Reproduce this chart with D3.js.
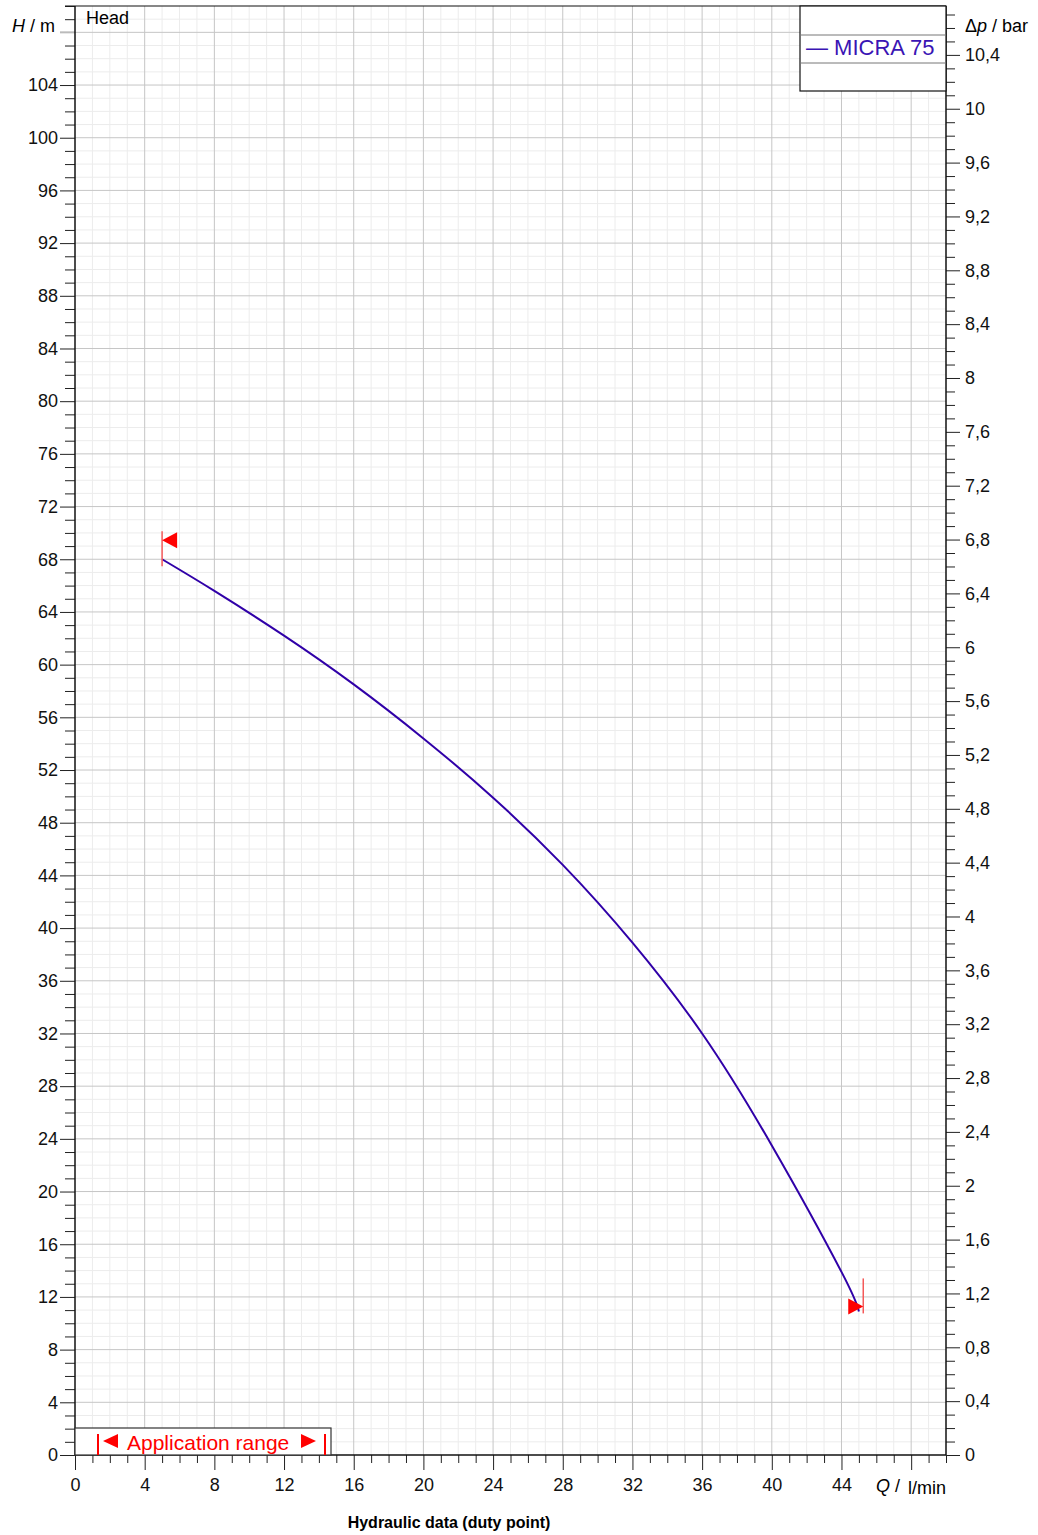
<!DOCTYPE html>
<html>
<head>
<meta charset="utf-8">
<script src="https://cdnjs.cloudflare.com/ajax/libs/d3/7.8.5/d3.min.js"></script>
<style>
  body { margin: 0; background: #fff; }
  svg { font-family: "Liberation Sans", Arial, sans-serif; }
</style>
</head>
<body>
<div id="chart"></div>
<script>
'use strict';

// pump curve MICRA 75
var flowValues = [5, 8, 12, 16, 20, 24, 28, 32, 36, 40, 44, 45];
var headValues = [68, 65.6, 62.2, 58.5, 54.4, 49.9, 44.8, 38.9, 32.0, 23.5, 13.9, 10.9];
// application range ends (l/min)
var rangeFlow = [5, 45.25];

var seriesName = 'MICRA 75';
var xTickLabels = [0, 4, 8, 12, 16, 20, 24, 28, 32, 36, 40, 44];
var yTickLabels = [0, 4, 8, 12, 16, 20, 24, 28, 32, 36, 40, 44, 48, 52, 56, 60, 64, 68, 72, 76, 80, 84, 88, 92, 96, 100, 104];
var barTickLabels = [0, 0.4, 0.8, 1.2, 1.6, 2, 2.4, 2.8, 3.2, 3.6, 4, 4.4, 4.8, 5.2, 5.6, 6, 6.4, 6.8, 7.2, 7.6, 8, 8.4, 8.8, 9.2, 9.6, 10, 10.4];
var metersPerBar = 10.22;

function drawChart() {
    var width = 1038, height = 1535;
    var plotLeft = 75, plotRight = 946, plotTop = 6, plotBottom = 1455;

    var svg = d3.select('#chart').append('svg')
        .attr('width', width)
        .attr('height', height);

    var x = d3.scaleLinear().domain([0, 50]).range([plotLeft, plotRight]);
    var y = d3.scaleLinear().domain([0, 110]).range([plotBottom, plotTop]);
    var yBar = d3.scaleLinear().domain([0, 110 / metersPerBar]).range([plotBottom, plotTop]);

    // grid
    var grid = svg.append('g');
    grid.selectAll('.vline')
        .data(d3.range(1, 50))
        .enter().append('line')
        .attr('x1', function(d) { return x(d); })
        .attr('x2', function(d) { return x(d); })
        .attr('y1', plotTop).attr('y2', plotBottom)
        .attr('stroke', function(d) { return d % 4 === 0 ? '#c6c6c6' : '#ececec'; })
        .attr('stroke-width', 1);
    grid.selectAll('.hline')
        .data(d3.range(1, 110))
        .enter().append('line')
        .attr('y1', function(d) { return y(d); })
        .attr('y2', function(d) { return y(d); })
        .attr('x1', plotLeft).attr('x2', plotRight)
        .attr('stroke', function(d) { return d % 4 === 0 ? '#c6c6c6' : '#ececec'; })
        .attr('stroke-width', 1);
    // major lines on top of the minor ones
    grid.selectAll('line').filter(function(d) { return d % 4 === 0; }).raise();

    // left axis
    var leftMinor = d3.axisLeft(y)
        .tickValues(d3.range(0, 111).filter(function(d) { return d % 4 !== 0; }))
        .tickSize(10).tickFormat('');
    var leftMajor = d3.axisLeft(y)
        .tickValues(yTickLabels)
        .tickSize(15).tickPadding(2)
        .tickFormat(d3.format('d'));
    svg.append('g').attr('transform', 'translate(' + plotLeft + ',0)').call(leftMinor);
    svg.append('g').attr('transform', 'translate(' + plotLeft + ',0)').call(leftMajor);

    // right axis in bar
    var rightMinor = d3.axisRight(yBar)
        .tickValues(d3.range(0, 108).map(function(d) { return d / 10; })
            .filter(function(d) { return Math.round(d * 10) % 4 !== 0; }))
        .tickSize(9).tickFormat('');
    var rightMajor = d3.axisRight(yBar)
        .tickValues(barTickLabels)
        .tickSize(14).tickPadding(5)
        .tickFormat(function(d) { return String(d).replace('.', ','); });
    svg.append('g').attr('transform', 'translate(' + plotRight + ',0)').call(rightMinor);
    svg.append('g').attr('transform', 'translate(' + plotRight + ',0)').call(rightMajor);

    // bottom axis
    var bottomMinor = d3.axisBottom(x)
        .tickValues(d3.range(0, 51).filter(function(d) { return d % 4 !== 0; }))
        .tickSize(8).tickFormat('');
    var bottomMajor = d3.axisBottom(x)
        .tickValues(xTickLabels.concat([48]))
        .tickSize(15).tickPadding(8)
        .tickFormat(function(d) { return d === 48 ? '' : d; });
    svg.append('g').attr('transform', 'translate(0,' + plotBottom + ')').call(bottomMinor);
    svg.append('g').attr('transform', 'translate(0,' + plotBottom + ')').call(bottomMajor);

    svg.selectAll('.tick text')
        .attr('font-size', 18)
        .attr('fill', '#111')
        .attr('font-family', '"Liberation Sans", Arial, sans-serif');
    svg.selectAll('.domain').remove();
    svg.selectAll('.tick line').attr('stroke', '#222');

    // 108 tick is gray, its label is the axis title
    svg.append('line')
        .attr('x1', plotLeft - 15).attr('x2', plotLeft)
        .attr('y1', y(108)).attr('y2', y(108))
        .attr('stroke', '#bbb').attr('stroke-width', 2);

    // frame
    svg.append('line').attr('x1', plotLeft).attr('x2', plotLeft).attr('y1', plotTop).attr('y2', plotBottom).attr('stroke', '#111').attr('stroke-width', 1.5);
    svg.append('line').attr('x1', plotRight).attr('x2', plotRight).attr('y1', plotTop).attr('y2', plotBottom).attr('stroke', '#111').attr('stroke-width', 1.5);
    svg.append('line').attr('x1', plotLeft).attr('x2', plotRight).attr('y1', plotBottom).attr('y2', plotBottom).attr('stroke', '#111').attr('stroke-width', 1.5);
    svg.append('line').attr('x1', plotLeft - 10).attr('x2', plotRight).attr('y1', plotTop).attr('y2', plotTop).attr('stroke', '#111').attr('stroke-width', 1.2);

    // axis titles
    var hTitle = svg.append('text').attr('x', 55).attr('y', 32).attr('text-anchor', 'end').attr('font-size', 18);
    hTitle.append('tspan').attr('font-style', 'italic').text('H');
    hTitle.append('tspan').text(' / m');

    var pTitle = svg.append('text').attr('x', 965).attr('y', 32).attr('font-size', 18);
    pTitle.append('tspan').text('\u0394');
    pTitle.append('tspan').attr('font-style', 'italic').text('p');
    pTitle.append('tspan').text(' / bar');

    var qTitle = svg.append('text').attr('x', 876).attr('y', 1492).attr('font-size', 18);
    qTitle.append('tspan').attr('font-style', 'italic').text('Q');
    qTitle.append('tspan').text(' /');
    svg.append('text').attr('x', 946).attr('y', 1494).attr('text-anchor', 'end').attr('font-size', 18).text('l/min');

    svg.append('text').attr('x', 86).attr('y', 24).attr('font-size', 18).text('Head');

    svg.append('text')
        .attr('x', 449).attr('y', 1528)
        .attr('text-anchor', 'middle')
        .attr('font-size', 16).attr('font-weight', 'bold')
        .text('Hydraulic data (duty point)');

    // curve
    var curveColor = '#3000a8';
    var points = flowValues.map(function(q, i) { return [q, headValues[i]]; });
    var line = d3.line()
        .x(function(d) { return x(d[0]); })
        .y(function(d) { return y(d[1]); })
        .curve(d3.curveNatural);
    svg.append('path')
        .datum(points)
        .attr('d', line)
        .attr('fill', 'none')
        .attr('stroke', curveColor)
        .attr('stroke-width', 2);

    // range markers at both ends of the curve
    var first = points[0], last = points[points.length - 1];
    var red = '#ff0000';
    var x0 = x(rangeFlow[0]), x1 = x(rangeFlow[1]);
    svg.append('line')
        .attr('x1', x0).attr('x2', x0)
        .attr('y1', y(first[1]) - 28).attr('y2', y(first[1]) + 7)
        .attr('stroke', '#f45a5a').attr('stroke-width', 1.5);
    svg.append('path')
        .attr('d', 'M' + x0 + ',' + (y(first[1]) - 19) + ' l15,-8 l0,16 z')
        .attr('fill', red);
    svg.append('line')
        .attr('x1', x1).attr('x2', x1)
        .attr('y1', y(last[1]) - 33).attr('y2', y(last[1]) + 2)
        .attr('stroke', '#f45a5a').attr('stroke-width', 1.5);
    svg.append('path')
        .attr('d', 'M' + x1 + ',' + (y(last[1]) - 5) + ' l-15,-8 l0,16 z')
        .attr('fill', red);

    // legend box
    var legend = svg.append('g');
    legend.append('rect')
        .attr('x', 800).attr('y', 6).attr('width', 146).attr('height', 85)
        .attr('fill', '#fff').attr('stroke', '#111').attr('stroke-width', 1.2);
    legend.append('line').attr('x1', 800).attr('x2', 946).attr('y1', 35).attr('y2', 35).attr('stroke', '#777');
    legend.append('line').attr('x1', 800).attr('x2', 946).attr('y1', 63).attr('y2', 63).attr('stroke', '#777');
    legend.append('text')
        .attr('x', 806).attr('y', 55)
        .attr('font-size', 22).attr('fill', '#3a14b4')
        .text('\u2014 ' + seriesName);

    // application range box
    var app = svg.append('g');
    app.append('rect')
        .attr('x', 75).attr('y', 1428).attr('width', 256).attr('height', 27)
        .attr('fill', '#fff').attr('stroke', '#333').attr('stroke-width', 1.2);
    app.append('line').attr('x1', 98).attr('x2', 98).attr('y1', 1434).attr('y2', 1455).attr('stroke', red).attr('stroke-width', 2);
    app.append('path').attr('d', 'M103,1441 l15,-7 l0,14 z').attr('fill', red);
    app.append('text')
        .attr('x', 127).attr('y', 1450)
        .attr('font-size', 21).attr('fill', red)
        .text('Application range');
    app.append('path').attr('d', 'M316,1441 l-15,-7 l0,14 z').attr('fill', red);
    app.append('line').attr('x1', 325).attr('x2', 325).attr('y1', 1434).attr('y2', 1455).attr('stroke', red).attr('stroke-width', 2);
}

drawChart();
</script>
</body>
</html>
